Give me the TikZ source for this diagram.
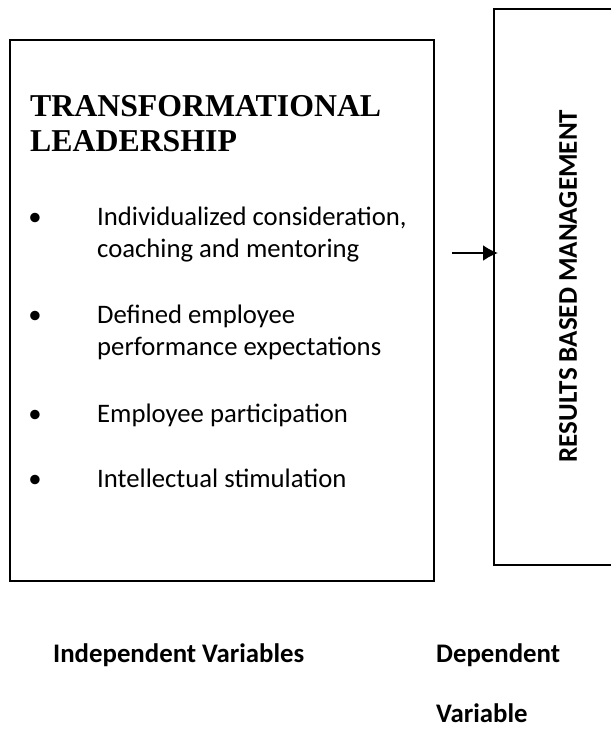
\documentclass[tikz,border=0pt]{standalone}
\usepackage{fontspec}
\setmainfont{Carlito}
\newfontfamily\titlefont{Liberation Serif}
\usepackage{xcolor}
\usetikzlibrary{arrows.meta, positioning, calc}

\tikzset{
    varbox/.style={draw, line width=2pt, anchor=north west, inner sep=0pt},
    itemtext/.style={anchor=base west, inner sep=0pt, font=\fontsize{26.7}{32}\selectfont},
    bulletdot/.style={anchor=base, inner sep=0pt, font=\fontsize{26.7}{32}\selectfont},
    caption/.style={anchor=base west, inner sep=0pt, font=\fontsize{26.8}{32}\selectfont\bfseries},
    headline/.style={anchor=base west, inner sep=0pt, font=\fontsize{31.8}{35}\selectfont\titlefont\bfseries},
    link/.style={line width=2pt, -{Latex[length=15pt,width=16pt]}}
}

\begin{document}
\begin{tikzpicture}[x=1pt, y=-1pt]
\useasboundingbox (0,0) rectangle (611,729);

% Independent variable box
\node[varbox, minimum width=424pt, minimum height=541pt] (lead) at (9,39) {};
\node[headline] (title) at (30,116) {TRANSFORMATIONAL};
\node[headline] (title2) at (30,151) {LEADERSHIP};

% Bullets
\foreach \y/\nm in {225/b1, 323/b2, 422/b3, 487/b4} {
    \node[bulletdot] (\nm) at (35,\y) {•};
}
\node[itemtext] (i1a) at (97,225) {Individualized consideration,};
\node[itemtext] (i1b) at (97,257) {coaching and mentoring};
\node[itemtext] (i2a) at (97,323) {Defined employee};
\node[itemtext] (i2b) at (97,355) {performance expectations};
\node[itemtext] (i3) at (97,422) {Employee participation};
\node[itemtext] (i4) at (97,487) {Intellectual stimulation};

% Dependent variable box (runs off the right edge)
\node[varbox, minimum width=150pt, minimum height=556pt] (rbm) at (493,8) {};
\node[rotate=90, inner sep=0pt, font=\fontsize{27}{32}\selectfont\bfseries] (rbmtext) at (568,286)
    {RESULTS BASED MANAGEMENT};

% Arrow into the dependent box
\coordinate (src) at (452,253);
\draw[link, shorten >=-5pt] (src) -- (src -| rbm.west);

% Captions
\node[caption] (indep) at (53,662) {Independent Variables};
\node[caption] (dep1) at (436,662) {Dependent};
\node[caption] (dep2) at (436,722) {Variable};
\end{tikzpicture}
\end{document}
